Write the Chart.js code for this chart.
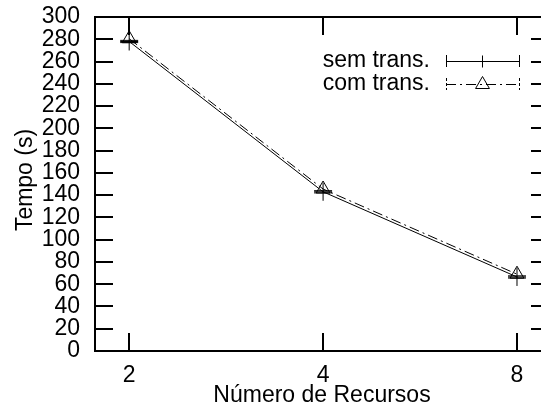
<!DOCTYPE html>
<html>
<head>
<meta charset="utf-8">
<script src="https://cdn.jsdelivr.net/npm/chart.js@4/dist/chart.umd.min.js"></script>
<style>
  html, body { margin: 0; padding: 0; background: #fff; overflow: hidden; width: 541px; height: 409px; }
  canvas { display: block; }
</style>
</head>
<body>
<canvas id="c" width="559" height="409"></canvas>
<script>
// Número de recursos (eixo x, escala log2)
const recursos = [2, 4, 8];
// Tempo médio em segundos
const semTrans = [278, 143, 66.5];
const comTrans = [280.5, 145.5, 69];
// Desvio da série sem transação
const semErro = [1, 1, 1];
// Marcas dos eixos
const xTicks = [2, 4, 8];
const yTicks = [0, 20, 40, 60, 80, 100, 120, 140, 160, 180, 200, 220, 240, 260, 280, 300];
const seriesNames = ['sem trans.', 'com trans.'];

const FONT = '"Liberation Sans", Arial, Helvetica, sans-serif';
const FSIZE = 23;

// Moldura com marcas internas nos quatro lados
const frame = {
  id: 'frame',
  beforeDatasetsDraw(chart) {
    const { ctx, chartArea: a, scales: { x, y } } = chart;
    const T = 18;
    ctx.save();
    ctx.strokeStyle = '#000';
    ctx.lineWidth = 2;
    ctx.beginPath();
    yTicks.forEach(v => {
      const py = Math.round(y.getPixelForValue(v));
      ctx.moveTo(a.left, py); ctx.lineTo(a.left + T, py);
      ctx.moveTo(a.right, py); ctx.lineTo(a.right - T, py);
    });
    xTicks.forEach(v => {
      const px = Math.round(x.getPixelForValue(v));
      ctx.moveTo(px, a.bottom); ctx.lineTo(px, a.bottom - T);
      ctx.moveTo(px, a.top); ctx.lineTo(px, a.top + T);
    });
    ctx.stroke();
    ctx.strokeRect(a.left, a.top, a.right - a.left, a.bottom - a.top);
    ctx.restore();
  }
};

// Barras de erro da série sem transação
const errorBars = {
  id: 'errorBars',
  afterDatasetsDraw(chart) {
    const { ctx, scales: { x, y } } = chart;
    ctx.save();
    ctx.strokeStyle = '#000';
    ctx.lineWidth = 1;
    ctx.beginPath();
    semTrans.forEach((v, i) => {
      const px = x.getPixelForValue(recursos[i]);
      const lo = y.getPixelForValue(v - semErro[i]);
      const hi = y.getPixelForValue(v + semErro[i]);
      ctx.moveTo(px, lo); ctx.lineTo(px, hi);
      ctx.moveTo(px - 9, lo); ctx.lineTo(px + 9, lo);
      ctx.moveTo(px - 9, hi); ctx.lineTo(px + 9, hi);
    });
    ctx.stroke();
    ctx.restore();
  }
};

// Legenda: rótulo alinhado à direita e amostra de linha com extremidades
const keyBox = {
  id: 'keyBox',
  afterDraw(chart) {
    const ctx = chart.ctx;
    const ds = chart.data.datasets;
    const rows = [
      { y: 61, ds: ds[0], tickDash: [], radius: 6 },
      { y: 84, ds: ds[1], tickDash: [3, 2], radius: 8 }
    ];
    const textRight = 430, x0 = 446, x1 = 519, xm = (x0 + x1) / 2;
    ctx.save();
    ctx.font = FSIZE + 'px ' + FONT;
    ctx.fillStyle = '#000';
    ctx.textAlign = 'right';
    ctx.textBaseline = 'middle';
    rows.forEach(r => {
      ctx.fillText(r.ds.label, textRight, r.y);
      ctx.strokeStyle = '#000';
      ctx.lineWidth = 1;
      ctx.setLineDash(r.ds.borderDash || []);
      ctx.beginPath();
      ctx.moveTo(x0, r.y + 0.5); ctx.lineTo(x1, r.y + 0.5);
      ctx.stroke();
      ctx.setLineDash(r.tickDash);
      ctx.beginPath();
      ctx.moveTo(x0 + 0.5, r.y - 6); ctx.lineTo(x0 + 0.5, r.y + 6);
      ctx.moveTo(x1 + 0.5, r.y - 6); ctx.lineTo(x1 + 0.5, r.y + 6);
      ctx.stroke();
      ctx.setLineDash([]);
      ctx.fillStyle = 'rgba(0,0,0,0)';
      Chart.helpers.drawPoint(ctx, {
        pointStyle: r.ds.pointStyle, radius: r.radius, borderWidth: 1, rotation: 0
      }, xm, r.y + 0.5);
      ctx.fillStyle = '#000';
    });
    ctx.restore();
  }
};

// Título do eixo y
const yTitle = {
  id: 'yTitle',
  afterDraw(chart) {
    const ctx = chart.ctx;
    ctx.save();
    ctx.font = FSIZE + 'px ' + FONT;
    ctx.fillStyle = '#000';
    ctx.textAlign = 'center';
    ctx.textBaseline = 'middle';
    ctx.translate(26, 180);
    ctx.rotate(-Math.PI / 2);
    ctx.fillText('Tempo (s)', 0, 0);
    ctx.restore();
  }
};

const toPoints = vals => recursos.map((r, i) => ({ x: r, y: vals[i] }));

new Chart(document.getElementById('c'), {
  type: 'line',
  data: {
    datasets: [
      {
        label: seriesNames[0],
        data: toPoints(semTrans),
        borderColor: '#000', borderWidth: 1, tension: 0, fill: false,
        pointStyle: 'cross', pointRadius: 9, pointBorderWidth: 1,
        pointBorderColor: '#000', pointBackgroundColor: 'rgba(0,0,0,0)'
      },
      {
        label: seriesNames[1],
        data: toPoints(comTrans),
        borderColor: '#000', borderWidth: 1, tension: 0, fill: false,
        borderDash: [10, 4, 2, 4],
        pointStyle: 'triangle', pointRadius: 8, pointBorderWidth: 1,
        pointBorderColor: '#000', pointBackgroundColor: 'rgba(0,0,0,0)'
      }
    ]
  },
  options: {
    responsive: false,
    animation: false,
    devicePixelRatio: 1,
    layout: { padding: { top: 17, right: 1, left: 0, bottom: 0 } },
    plugins: { legend: { display: false }, tooltip: { enabled: false } },
    scales: {
      x: {
        type: 'logarithmic', min: 1.77, max: 8.97,
        afterBuildTicks: s => { s.ticks = xTicks.map(v => ({ value: v })); },
        afterFit: s => { s.height = 58; s.paddingLeft = 0; s.paddingRight = 0; },
        grid: { display: false, drawTicks: false },
        border: { display: false },
        ticks: {
          autoSkip: false, maxRotation: 0, padding: 11, color: '#000',
          font: { size: FSIZE, family: FONT },
          callback: v => String(v)
        },
        title: {
          display: true, text: 'Número de Recursos', color: '#000',
          font: { size: FSIZE, family: FONT }, padding: { top: 0, bottom: 0 }
        }
      },
      y: {
        type: 'linear', min: 0, max: 300,
        afterBuildTicks: s => { s.ticks = yTicks.map(v => ({ value: v })); },
        afterFit: s => { s.width = 95; s.paddingTop = 0; s.paddingBottom = 0; },
        grid: { display: false, drawTicks: false },
        border: { display: false },
        ticks: {
          autoSkip: false, padding: 15, color: '#000',
          font: { size: FSIZE, family: FONT },
          callback: v => String(v)
        }
      }
    }
  },
  plugins: [frame, errorBars, keyBox, yTitle]
});
</script>
</body>
</html>
